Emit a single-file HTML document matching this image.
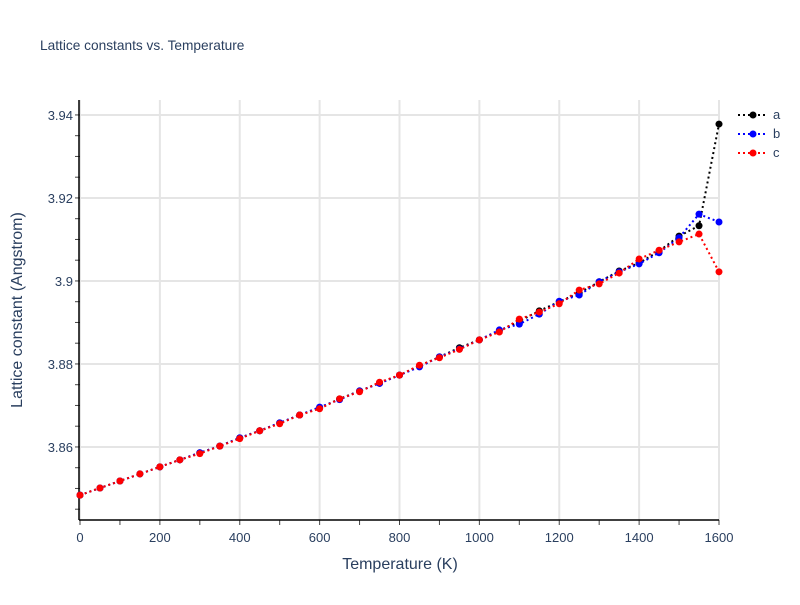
<!DOCTYPE html>
<html><head><meta charset="utf-8"><style>
body{margin:0;background:#fff;font-family:"Liberation Sans",sans-serif}
</style></head><body>
<svg id="chart" width="800" height="600" xmlns="http://www.w3.org/2000/svg">
<rect width="800" height="600" fill="#fff"/>
<text x="40" y="50" font-size="13.7" fill="#2a3f5f">Lattice constants vs. Temperature</text>
<g id="grid"></g>
<g id="axes"></g>
<g id="series"></g>
<g id="legend"></g>
<text x="400" y="569" text-anchor="middle" font-size="16" fill="#2a3f5f">Temperature (K)</text>
<text transform="translate(22,310) rotate(-90)" text-anchor="middle" font-size="16" fill="#2a3f5f">Lattice constant (Angstrom)</text>
</svg>
<script>
const temps=[0,50,100,150,200,250,300,350,400,450,500,550,600,650,700,750,800,850,900,950,1000,1050,1100,1150,1200,1250,1300,1350,1400,1450,1500,1550,1600];
const seriesA=[3.8484,3.8501,3.8518,3.8535,3.8552,3.8569,3.8586,3.8602,3.8622,3.8639,3.8658,3.8677,3.8694,3.8716,3.8735,3.8754,3.8773,3.8795,3.8817,3.8839,3.8858,3.8880,3.8903,3.8928,3.8950,3.8971,3.8998,3.9024,3.9043,3.9072,3.9108,3.9133,3.9378];
const seriesB=[3.8484,3.8501,3.8518,3.8535,3.8552,3.8569,3.8586,3.8602,3.8622,3.8639,3.8658,3.8677,3.8696,3.8714,3.8735,3.8753,3.8773,3.8793,3.8817,3.8836,3.8858,3.8882,3.8896,3.8920,3.8951,3.8966,3.8998,3.9022,3.9041,3.9068,3.9104,3.9161,3.9142];
const seriesC=[3.8484,3.8501,3.8518,3.8535,3.8552,3.8569,3.8584,3.8602,3.8620,3.8639,3.8656,3.8677,3.8692,3.8716,3.8733,3.8756,3.8773,3.8797,3.8815,3.8835,3.8858,3.8877,3.8908,3.8925,3.8945,3.8978,3.8993,3.9019,3.9053,3.9074,3.9094,3.9113,3.9022];
const xTicks=[0,200,400,600,800,1000,1200,1400,1600];
const yTicks=[3.86,3.88,3.90,3.92,3.94];
const yTickLabels=["3.86","3.88","3.9","3.92","3.94"];
const seriesNames=["a","b","c"];
const seriesColors=["#000","#00f","#f00"];

const NS="http://www.w3.org/2000/svg";
const X0=80,X1=719,Y0=520,Y1=100;
const xmin=0,xmax=1600,ymin=3.8424,ymax=3.9436;
function xs(v){return X0+(v-xmin)/(xmax-xmin)*(X1-X0);}
function ys(v){return Y0-(v-ymin)/(ymax-ymin)*(Y0-Y1);}
function mk(tag,attrs,parent){const e=document.createElementNS(NS,tag);for(const k in attrs)e.setAttribute(k,attrs[k]);parent.appendChild(e);return e;}
const grid=document.getElementById('grid'),axes=document.getElementById('axes');
xTicks.forEach(t=>{
  const l=mk('line',{x1:xs(t),x2:xs(t),y1:Y1,y2:Y0,stroke:'#e5e5e5','stroke-width':2},grid);
  
  
  const tx=mk('text',{x:xs(t),y:Y0+22,'text-anchor':'middle','font-size':13,fill:'#2a3f5f'},axes);
  tx.textContent=t;
  
  
});
for(let t=0;t<=1600;t+=100){mk('line',{x1:xs(t),x2:xs(t),y1:Y0,y2:Y0+5,stroke:'#444'},axes);}
yTicks.forEach((t,i)=>{
  const l=mk('line',{x1:X0,x2:X1,y1:ys(t),y2:ys(t),stroke:'#e5e5e5','stroke-width':2},grid);
  
  
  const tx=mk('text',{x:X0-7,y:ys(t)+5,'text-anchor':'end','font-size':13,fill:'#2a3f5f'},axes);
  tx.textContent=yTickLabels[i];
  
  
});
for(let k=0;k<=20;k++){const t=3.845+k*0.005;if(t>ymax)break;mk('line',{x1:X0-5,x2:X0,y1:ys(t),y2:ys(t),stroke:'#444'},axes);}
const xa=mk('line',{x1:X0-1,x2:X1,y1:Y0,y2:Y0,stroke:'#000','stroke-width':1.5},axes);


const ya=mk('line',{x1:X0-1,x2:X0-1,y1:Y1,y2:Y0,stroke:'#000','stroke-width':1.5},axes);



const ser=document.getElementById('series'),leg=document.getElementById('legend');
[seriesA,seriesB,seriesC].forEach((vals,si)=>{
  const g=mk('g',{},ser);
  
  
  const pts=vals.map((v,i)=>xs(temps[i])+','+ys(v)).join(' ');
  mk('polyline',{points:pts,fill:'none',stroke:seriesColors[si],'stroke-width':2,'stroke-dasharray':'2,3'},g);
  vals.forEach((v,i)=>{
    const c=mk('circle',{cx:xs(temps[i]),cy:ys(v),r:3.5,fill:seriesColors[si]},g);
    
    
  });
  const ly=115+si*19;
  const lg=mk('g',{},leg);
  
  
  mk('line',{x1:738,x2:768,y1:ly,y2:ly,stroke:seriesColors[si],'stroke-width':2,'stroke-dasharray':'2,3'},lg);
  mk('circle',{cx:753,cy:ly,r:3.5,fill:seriesColors[si]},lg);
  const t=mk('text',{x:773,y:ly+4,'font-size':13,fill:'#2a3f5f'},lg);
  t.textContent=seriesNames[si];
});
</script>
</body></html>
